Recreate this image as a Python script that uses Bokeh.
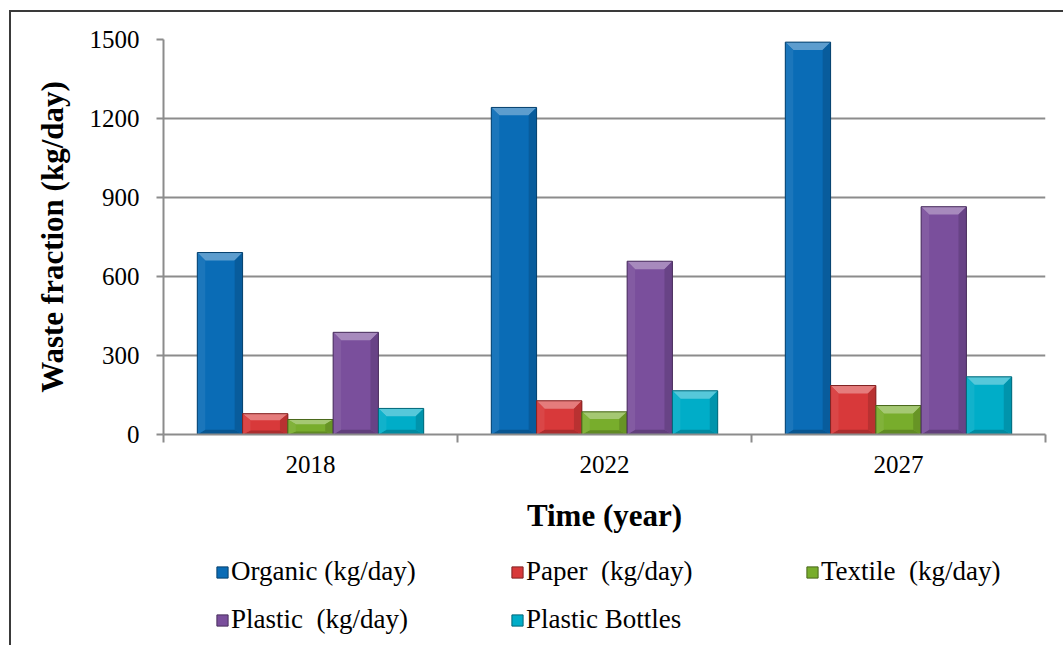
import numpy as np
from bokeh.plotting import figure
from bokeh.layouts import column
from bokeh.models import FixedTicker, Legend, LegendItem, Range1d
from bokeh.embed import file_html
from bokeh.resources import INLINE

years = ["2018", "2022", "2027"]
series = ["Organic (kg/day)", "Paper  (kg/day)", "Textile  (kg/day)", "Plastic  (kg/day)", "Plastic Bottles"]
organic = [691, 1242, 1490]
paper = [79, 128, 186]
textile = [57, 86, 110]
plastic = [388, 658, 865]
bottles = [99, 166, 219]
y_ticks = [0, 300, 600, 900, 1200, 1500]

values = [organic, paper, textile, plastic, bottles]
base_colors = ["#0a6cb6", "#d8393a", "#78ad2c", "#7a4f9c", "#00adc8"]


def shade(hexc, f):
    c = np.array([int(hexc[i:i + 2], 16) for i in (1, 3, 5)], dtype=float)
    if f >= 0:
        c = c + (255 - c) * f
    else:
        c = c * (1 + f)
    c = np.clip(c, 0, 255).astype(int)
    return "#%02x%02x%02x" % tuple(c)


FONT = "Liberation Serif"
AXIS_GREY = "#8c8c8c"
W = 1052

p = figure(width=W, height=533, output_backend="svg", toolbar_location=None,
           x_range=Range1d(0, 3), y_range=Range1d(0, 1500),
           min_border_left=152, min_border_right=W - 1034, min_border_top=27, min_border_bottom=111)
p.outline_line_color = None
p.background_fill_color = "white"

n = len(series)
bw = 0.154
bx = 0.027  # horizontal bevel (x units)
centers = np.arange(len(years)) + 0.5

for k, (vals, col) in enumerate(zip(values, base_colors)):
    vals = np.array(vals, dtype=float)
    xs = centers + (k - (n - 1) / 2) * bw
    x0 = xs - bw / 2
    x1 = xs + bw / 2
    p.vbar(x=xs, top=vals, bottom=0, width=bw, fill_color=col, line_color=None)
    h = np.minimum(30.0, vals * 0.32)
    b = np.minimum(bx, bw * 0.2)
    hb = h * 0.6
    # top bevel
    p.patches(xs=[[a, c, c - b, a + b] for a, c in zip(x0, x1)],
              ys=[[t, t, t - hh, t - hh] for t, hh in zip(vals, h)],
              fill_color=shade(col, 0.34), line_color=None)
    # bottom bevel
    p.patches(xs=[[a, c, c - b, a + b] for a, c in zip(x0, x1)],
              ys=[[0, 0, hh, hh] for hh in hb],
              fill_color=shade(col, -0.2), line_color=None)
    # left bevel
    p.patches(xs=[[a, a, a + b, a + b] for a in x0],
              ys=[[0, t, t - hh, hh2] for t, hh, hh2 in zip(vals, h, hb)],
              fill_color=shade(col, 0.07), line_color=None)
    # right bevel
    p.patches(xs=[[c, c, c - b, c - b] for c in x1],
              ys=[[0, t, t - hh, hh2] for t, hh, hh2 in zip(vals, h, hb)],
              fill_color=shade(col, -0.14), line_color=None)
    p.vbar(x=xs, top=vals, bottom=0, width=bw, fill_color=None,
           line_color=shade(col, -0.4), line_width=1)

# grid
p.xgrid.grid_line_color = None
p.ygrid.ticker = FixedTicker(ticks=y_ticks)
p.ygrid.grid_line_color = AXIS_GREY
p.ygrid.grid_line_width = 2

# y axis
p.yaxis.ticker = FixedTicker(ticks=y_ticks)
p.yaxis.axis_line_color = AXIS_GREY
p.yaxis.axis_line_width = 2
p.yaxis.major_tick_line_color = AXIS_GREY
p.yaxis.major_tick_line_width = 2
p.yaxis.major_tick_out = 7
p.yaxis.major_tick_in = 0
p.yaxis.minor_tick_line_color = None
p.yaxis.major_label_standoff = 17
p.yaxis.major_label_text_font = FONT
p.yaxis.major_label_text_font_size = "25px"
p.yaxis.major_label_text_color = "black"
p.yaxis.axis_label = "Waste fraction (kg/day)"
p.yaxis.axis_label_text_font = FONT
p.yaxis.axis_label_text_font_size = "31px"
p.yaxis.axis_label_text_font_style = "bold"
p.yaxis.axis_label_text_color = "black"
p.yaxis.axis_label_standoff = 17

# x axis
p.xaxis.ticker = FixedTicker(ticks=list(centers), minor_ticks=list(np.arange(len(years) + 1)))
p.xaxis.major_label_overrides = {float(c): y for c, y in zip(centers, years)}
p.xaxis.axis_line_color = AXIS_GREY
p.xaxis.axis_line_width = 2
p.xaxis.major_tick_line_color = None
p.xaxis.major_tick_out = 0
p.xaxis.major_tick_in = 0
p.xaxis.minor_tick_line_color = AXIS_GREY
p.xaxis.minor_tick_line_width = 2
p.xaxis.minor_tick_out = 8
p.xaxis.minor_tick_in = 0
p.xaxis.major_label_standoff = 13
p.xaxis.major_label_text_font = FONT
p.xaxis.major_label_text_font_size = "25px"
p.xaxis.major_label_text_color = "black"
p.xaxis.axis_label = "Time (year)"
p.xaxis.axis_label_text_font = FONT
p.xaxis.axis_label_text_font_size = "31px"
p.xaxis.axis_label_text_font_style = "bold"
p.xaxis.axis_label_text_color = "black"
p.xaxis.axis_label_standoff = 22

# legend panel (separate figure below the chart)
p2 = figure(width=W, height=100, output_backend="svg", toolbar_location=None,
            x_range=Range1d(0, 1), y_range=Range1d(0, 1),
            x_axis_location=None, y_axis_location=None,
            min_border_left=0, min_border_right=0, min_border_top=0, min_border_bottom=0)
p2.outline_line_color = None
p2.xgrid.grid_line_color = None
p2.ygrid.grid_line_color = None

legend_renderers = []
for col in base_colors:
    r = p2.rect(x=[-10], y=[-10], width=0.1, height=0.1,
                fill_color=col, line_color=shade(col, -0.4), line_width=1)
    legend_renderers.append(r)

legend = Legend(items=[LegendItem(label=s, renderers=[r]) for s, r in zip(series, legend_renderers)],
                ncols=3, orientation="horizontal",
                location=(52, 10),
                glyph_width=14, glyph_height=14, label_standoff=2, label_width=262,
                label_height=30, spacing=17,
                label_text_font=FONT, label_text_font_size="27px", label_text_color="black",
                border_line_color=None, background_fill_alpha=0,
                padding=0, margin=0)
p2.add_layout(legend, "center")

layout = column(p, p2, spacing=0,
                styles={"border-left": "2px solid #3a3a3a", "border-top": "2px solid #3a3a3a",
                        "margin-left": "9px", "margin-top": "10px"})

open("out.html", "w").write(file_html(layout, INLINE))
